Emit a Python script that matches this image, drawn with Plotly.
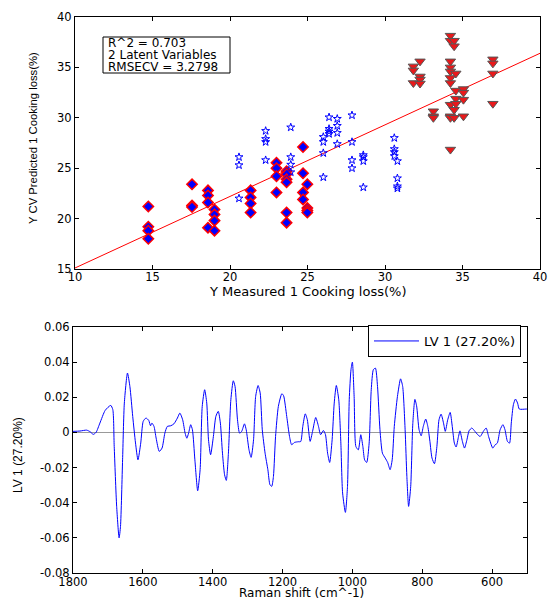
import plotly.graph_objects as go

# ---------------- Top panel data ----------------
diamond_x = [14.73]*4 + [17.55]*3 + [18.58]*4 + [19.0]*4 + [21.33]*4 + [23.0]*4 + [23.65]*6 + [24.71]*4 + [24.99]*4
diamond_y = [21.2, 19.2, 18.8, 18.0,
             23.4, 21.3, 21.15,
             22.8, 22.3, 21.6, 19.1,
             20.9, 20.4, 19.8, 18.8,
             22.8, 22.1, 21.5, 20.6,
             25.55, 25.0, 24.2, 22.6,
             24.7, 24.4, 23.9, 23.6, 20.6, 19.6,
             27.1, 24.5, 22.6, 21.9,
             23.4, 21.05, 20.8, 20.6]

star_x = [20.58]*3 + [22.3]*4 + [23.92]*4 + [26.02]*4 + [26.39]*4 + [26.92]*4 + [27.87]*4 + [28.6]*4 + [30.6]*4 + [30.8]*4
star_y = [26.1, 25.3, 22.0,
          28.7, 27.9, 27.6, 25.8,
          29.05, 26.1, 25.35, 24.6,
          28.1, 27.6, 26.5, 24.1,
          30.05, 28.9, 28.65, 28.4,
          29.9, 29.2, 28.5, 27.4,
          30.25, 27.6, 25.8, 25.0,
          26.3, 26.1, 25.7, 23.1,
          28.0, 26.9, 26.6, 26.2,
          25.7, 24.0, 23.2, 23.0]

tri_x = [31.83]*3 + [32.26]*4 + [33.12]*3 + [34.22]*11 + [34.46]*4 + [34.57]*4 + [35.06]*4 + [36.96]*4
tri_y = [35.1, 34.7, 33.45,
         35.6, 34.1, 33.8, 33.4,
         30.65, 30.15, 30.0,
         38.15, 37.65, 35.6, 35.0, 34.6, 33.95, 33.45, 31.3, 30.15, 30.0, 26.85,
         37.65, 37.1, 30.8, 30.0,
         34.4, 32.7, 31.9, 31.4,
         32.85, 32.5, 31.8, 30.15,
         35.8, 35.4, 34.4, 31.4]

reg_x = [10, 40]
reg_y = [15.1, 36.4]

top_xticks = [10, 15, 20, 25, 30, 35, 40]
top_yticks = [15, 20, 25, 30, 35, 40]
stats_lines = ["R^2 = 0.703", "2 Latent Variables", "RMSECV = 3.2798"]
top_xtitle = "Y Measured 1 Cooking loss(%)"
top_ytitle = "Y CV Predicted 1 Cooking loss(%)"

# ---------------- Bottom panel data ----------------
wavenumber = [1800, 1780, 1761, 1751, 1742, 1734, 1723, 1708, 1692, 1686, 1682, 1675, 1668, 1664, 1658,
              1653, 1644, 1637, 1629, 1621, 1614, 1606, 1599, 1591, 1583, 1578, 1574, 1568, 1562, 1553,
              1545, 1537, 1530, 1520, 1511, 1501, 1494, 1486, 1479, 1474, 1469, 1463, 1458, 1451, 1443,
              1436, 1430, 1423, 1417, 1412, 1406, 1398, 1391, 1384, 1378, 1372, 1366, 1361, 1355, 1348,
              1341, 1336, 1329, 1323, 1317, 1309, 1304, 1296, 1290, 1283, 1277, 1270, 1264, 1258, 1250,
              1242, 1236, 1231, 1226, 1220, 1212, 1202, 1197, 1188, 1180, 1174, 1166, 1155, 1148, 1142,
              1135, 1129, 1121, 1114, 1105, 1097, 1091, 1083, 1077, 1071, 1065, 1058, 1052, 1046, 1039,
              1033, 1028, 1020, 1014, 1009, 1004, 1000, 995, 990, 983, 976, 970, 965, 959, 952,
              946, 940, 934, 928, 921, 914, 906, 899, 892, 886, 880, 871, 862, 856, 849,
              844, 839, 833, 827, 821, 816, 809, 803, 797, 790, 784, 778, 772, 765, 758,
              752, 746, 739, 734, 727, 720, 714, 708, 703, 696, 692, 685, 679, 672, 666,
              658, 649, 641, 634, 625, 617, 610, 604, 598, 591, 585, 577, 569, 563, 556,
              550, 545, 539, 533, 527, 522, 503, 500]
lv1 = [0.0006, 0.0008, 0.0013, 0.0004, -0.0011, 0.0, 0.0053, 0.0125, 0.0154, 0.013, -0.008, -0.042, -0.060, -0.0535, -0.0156,
       0.0167, 0.0338, 0.026, 0.0091, -0.006, -0.0156, -0.006, 0.0063, 0.0082, 0.0068, 0.0038, 0.0053, 0.0034, -0.0032, -0.0108,
       -0.0089, -0.0004, 0.0034, 0.0038, 0.0049, 0.0082, 0.011, 0.0072, -0.0004, -0.0033, -0.0004, 0.0044, 0.0015, -0.0156, -0.0332,
       -0.0212, 0.0148, 0.0243, 0.0167, -0.0042, -0.0127, -0.0023, 0.0091, 0.012, 0.0053, -0.0118, -0.0241, -0.0273, -0.0118, 0.0186,
       0.0294, 0.0262, 0.0072, -0.0004, 0.0006, 0.0049, 0.0015, -0.0099, -0.0142, -0.0042, 0.0205, 0.0267, 0.0224, 0.0015, -0.0118,
       -0.0212, -0.0298, -0.0307, -0.025, -0.0023, 0.0148, 0.022, 0.0209, 0.0091, -0.0023, -0.007, -0.0057, -0.0053, -0.0052, 0.0034,
       0.0106, 0.0072, -0.0051, 0.0006, 0.0085, 0.0034, -0.0013, 0.0011, -0.0013, -0.0118, -0.0171, -0.0042, 0.0167, 0.0267, 0.0186,
       -0.0061, -0.0345, -0.0455, -0.0307, 0.0186, 0.0357, 0.040, 0.0205, -0.008, -0.0099, -0.0013, -0.008, -0.0156, -0.0171, -0.0061,
       0.0243, 0.0357, 0.0366, 0.0262, 0.0015, -0.0118, -0.0146, -0.0171, -0.0212, -0.0156, 0.0034, 0.0205, 0.0305, 0.0262, 0.0015,
       -0.025, -0.0421, -0.0307, 0.005, 0.0188, 0.015, 0.0015, -0.0019, 0.0034, 0.0076, 0.0034, -0.0051, -0.0146, -0.0178, -0.008,
       0.0072, 0.0104, 0.0053, 0.0006, 0.0072, 0.0114, 0.0034, -0.0061, -0.0083, -0.0023, 0.0009, -0.0051, -0.0089, -0.0042, 0.0009,
       0.0025, 0.0006, -0.0013, -0.0023, 0.0006, 0.0025, -0.0023, -0.0061, -0.0089, -0.007, -0.0061, 0.0015, 0.0044, 0.0015, -0.0051,
       -0.0061, 0.0053, 0.0158, 0.019, 0.0167, 0.0133, 0.0133, 0.0133]

bot_xticks = [1800, 1600, 1400, 1200, 1000, 800, 600]
bot_yticks = [0.06, 0.04, 0.02, 0, -0.02, -0.04, -0.06, -0.08]
bot_yticktext = ["0.06", "0.04", "0.02", "0", "-0.02", "-0.04", "-0.06", "-0.08"]
bot_xtitle = "Raman shift (cm^-1)"
bot_ytitle = "LV 1 (27.20%)"
legend_name = "LV 1 (27.20%)"

FONT = "Liberation Sans, Arial, Helvetica, sans-serif"
WIDE = "DejaVu Sans, Liberation Sans, sans-serif"

fig = go.Figure()

fig.add_trace(go.Scatter(x=reg_x, y=reg_y, mode="lines",
                         line=dict(color="#ff0000", width=1), showlegend=False,
                         xaxis="x", yaxis="y"))
fig.add_trace(go.Scatter(x=diamond_x, y=diamond_y, mode="markers",
                         marker=dict(symbol="diamond", size=8, color="#0000ff",
                                     line=dict(color="#ff0000", width=1.5)),
                         showlegend=False, xaxis="x", yaxis="y"))
fig.add_trace(go.Scatter(x=star_x, y=star_y, mode="markers",
                         marker=dict(symbol="star-open", size=6, color="#0000ff",
                                     line=dict(color="#0000ff", width=1)),
                         showlegend=False, xaxis="x", yaxis="y"))
fig.add_trace(go.Scatter(x=tri_x, y=tri_y, mode="markers",
                         marker=dict(symbol="triangle-down", size=9, color="#e8191b",
                                     line=dict(color="#555555", width=1)),
                         showlegend=False, xaxis="x", yaxis="y"))

fig.add_trace(go.Scatter(x=wavenumber, y=lv1, mode="lines", name=legend_name,
                         line=dict(color="#0000ff", width=1, shape="spline", smoothing=0.6),
                         showlegend=True, xaxis="x2", yaxis="y2"))

axis_common = dict(showline=True, linecolor="black", linewidth=1, mirror="ticks",
                   ticks="inside", ticklen=4, tickcolor="black", showgrid=False,
                   zeroline=False, tickfont=dict(family=WIDE, size=11.5, color="black"),
                   automargin=False, ticklabeloverflow="allow")

W, H = 548, 598
def px(x):  # page pixel -> paper x
    return x / W
def py(y):  # page pixel -> paper y
    return 1 - y / H

annotations = []
# stats box lines
for line, yc in zip(stats_lines, [43, 55, 67]):
    annotations.append(dict(text=line, xref="paper", yref="paper", x=px(106), y=py(yc),
                            xanchor="left", yanchor="middle", showarrow=False,
                            font=dict(family=WIDE, size=12, color="black")))
# axis titles
annotations += [
    dict(text=top_xtitle, xref="paper", yref="paper", x=px(307), y=py(291),
         xanchor="center", yanchor="middle", showarrow=False,
         font=dict(family=WIDE, size=13, color="black")),
    dict(text=top_ytitle, xref="paper", yref="paper", x=px(33), y=py(138),
         xanchor="center", yanchor="middle", showarrow=False, textangle=-90,
         font=dict(family=FONT, size=11.3, color="black")),
    dict(text=bot_xtitle, xref="paper", yref="paper", x=px(301), y=py(593),
         xanchor="center", yanchor="middle", showarrow=False,
         font=dict(family=WIDE, size=12, color="black")),
    dict(text=bot_ytitle, xref="paper", yref="paper", x=px(18), y=py(455),
         xanchor="center", yanchor="middle", showarrow=False, textangle=-90,
         font=dict(family=FONT, size=12, color="black")),
]

fig.update_layout(
    width=W, height=H,
    margin=dict(l=0, r=0, t=0, b=0),
    paper_bgcolor="white", plot_bgcolor="white",
    font=dict(family=FONT, size=12, color="black"),
    xaxis=dict(domain=[px(75), px(540)], range=[10, 40], tickvals=top_xticks, anchor="y",
               ticklabelstandoff=-3, **axis_common),
    yaxis=dict(domain=[py(269), py(17)], range=[15, 40], tickvals=top_yticks, anchor="x",
               **axis_common),
    xaxis2=dict(domain=[px(73), px(527)], range=[1800, 500], tickvals=bot_xticks, anchor="y2",
                ticklabelstandoff=-2, **axis_common),
    yaxis2=dict(domain=[py(573), py(327)], range=[-0.08, 0.06], tickvals=bot_yticks,
                ticktext=bot_yticktext, anchor="x2",
                **{**axis_common, "zeroline": True}, zerolinecolor="#999999", zerolinewidth=1),
    legend=dict(x=px(521), y=py(325), xanchor="right", yanchor="top",
                bgcolor="white", bordercolor="black", borderwidth=1,
                font=dict(family=WIDE, size=13), itemwidth=45, tracegroupgap=0),
    shapes=[dict(type="rect", xref="paper", yref="paper",
                 x0=px(103), x1=px(230), y0=py(73), y1=py(37),
                 line=dict(color="black", width=1), fillcolor="white", layer="below")],
    annotations=annotations,
)

# the page body has a default 8px margin; remove it so the 548x598 figure fills the window
fig.write_html("out.html", config={"displayModeBar": False},
               post_script="document.body.style.margin='0';document.body.style.overflow='hidden';")
